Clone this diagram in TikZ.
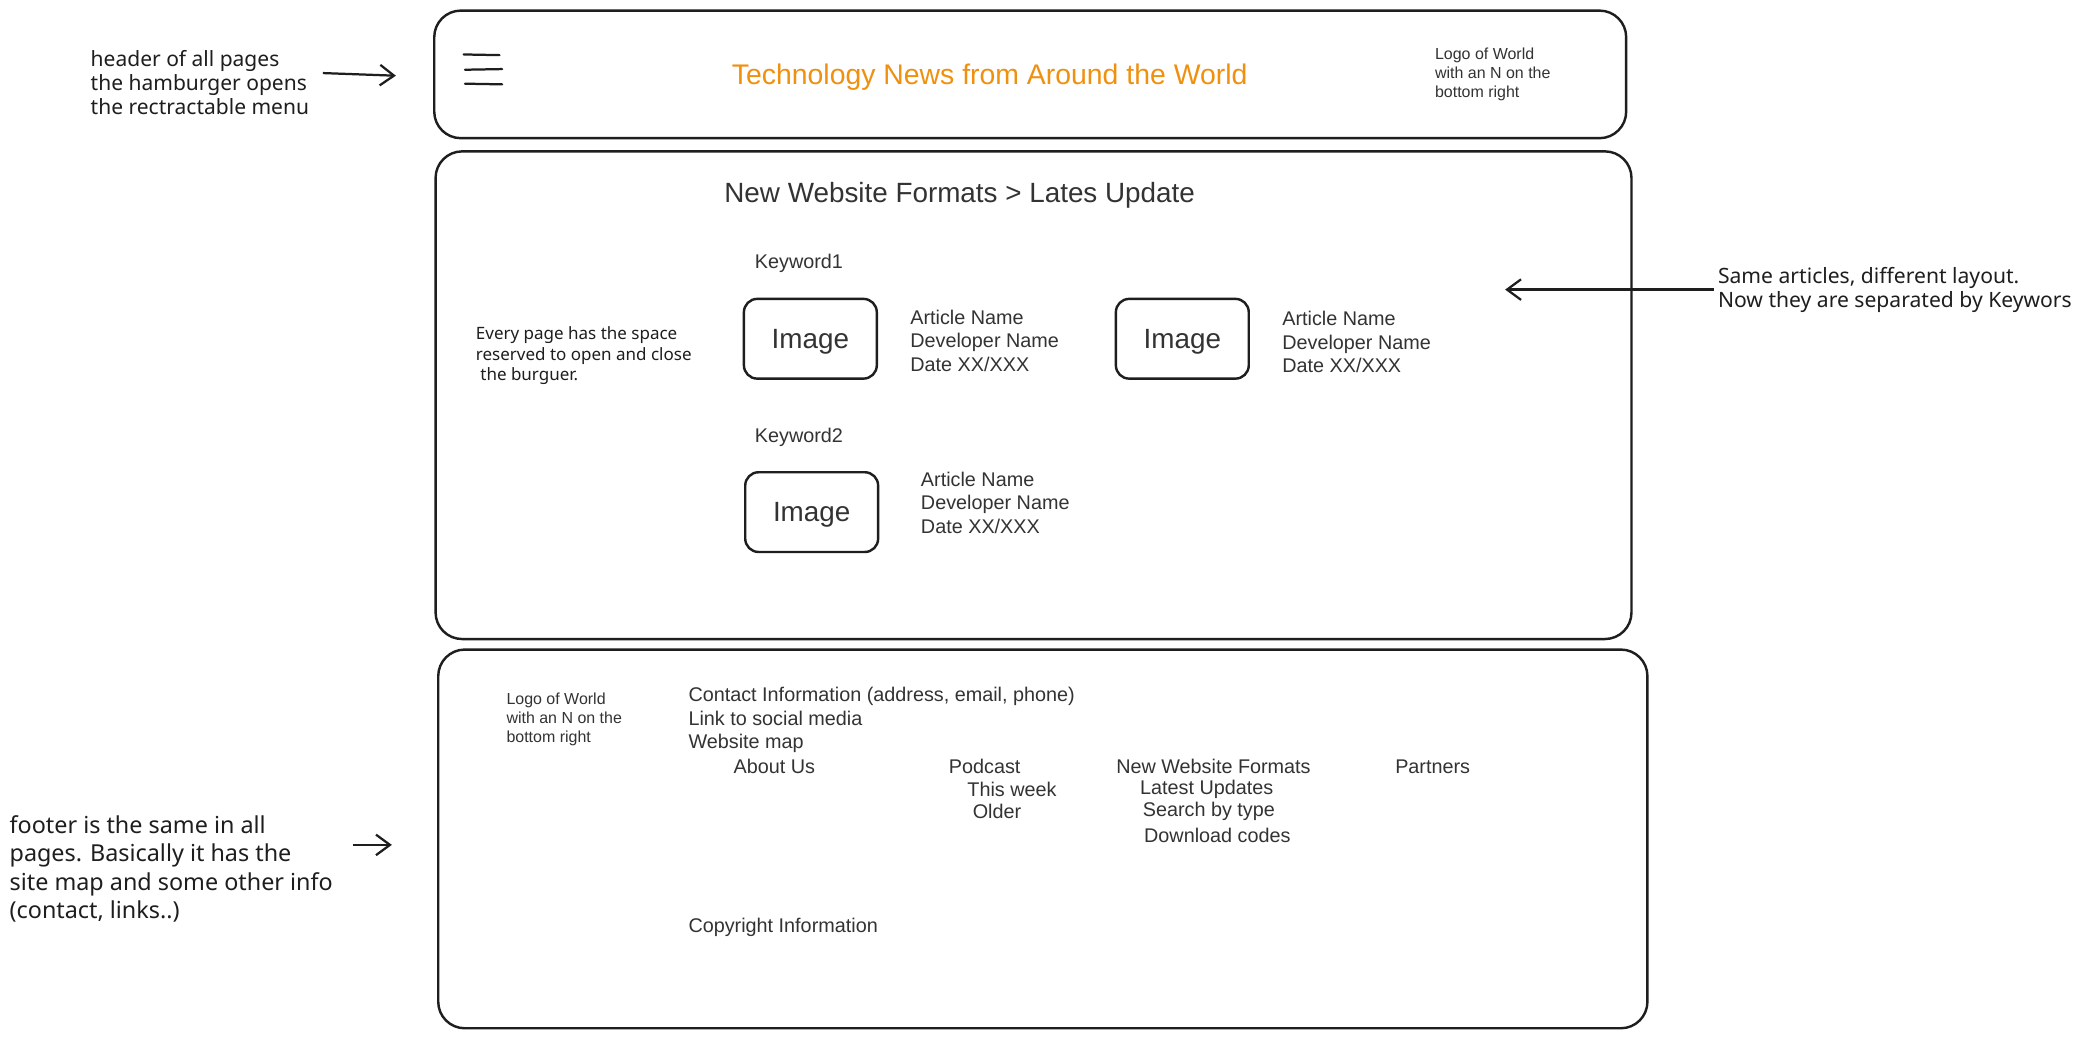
\documentclass[tikz,border=0pt]{standalone}
\usepackage{fontspec}
\setmainfont{Liberation Sans}
\newfontfamily\handfont{Noto Sans}
\usetikzlibrary{arrows.meta}
\definecolor{txt}{HTML}{333333}
\definecolor{ink}{HTML}{1E1E1E}
\definecolor{ttl}{HTML}{F0900F}
\newcommand\wfbody{\fontsize{10.6}{12.45}\selectfont}
\newcommand\wfsmall{\fontsize{8.55}{10.3}\selectfont}
\newcommand\wfimg{\fontsize{14.9}{17}\selectfont}
\begin{document}
\begin{tikzpicture}[x=0.025cm,y=-0.025cm,
  frame/.style={draw=ink, line width=1.3pt, rounded corners=0.5cm, inner sep=0},
  imgbox/.style={draw=ink, line width=1.3pt, rounded corners=0.25cm, minimum width=2.5cm, minimum height=1.5cm, inner sep=0, text=txt, font=\wfimg},
  body/.style={anchor=west, inner sep=0, align=left, text=txt, font=\wfbody, yshift=-0.05cm},
  small/.style={anchor=west, inner sep=0, align=left, text=txt, font=\wfsmall, yshift=-0.025cm},
  note/.style={anchor=west, inner sep=0, align=left, text=ink},
  arr/.style={draw=ink, line width=1.2pt, -{Straight Barb[length=7.5pt,width=11pt]}}
]
\fill[white] (0,0) rectangle (1568,781);
\useasboundingbox (0,0) rectangle (1568,781);

% frames
\node[frame, minimum width=22.425cm, minimum height=2.4cm] (header) at (775.5,56) {};
\node[frame, minimum width=22.5cm, minimum height=9.175cm] (main) at (778,297.5) {};
\node[frame, minimum width=22.75cm, minimum height=7.125cm] (footer) at (785,631.5) {};

% hamburger
\draw[ink, line width=1.2pt, line cap=round] (349,41) -- (376,41.5);
\draw[ink, line width=1.2pt, line cap=round] (350,52.5) -- (378,52);
\draw[ink, line width=1.2pt, line cap=round] (350,63) -- (378,63.5);

% header
\node[anchor=center, inner sep=0, text=ttl, font=\fontsize{15.2}{18}\selectfont, yshift=-0.05cm] (title) at (745,56) {Technology News from Around the World};
\node[small] (hlogo) at (1080,55) {Logo of World\\with an N on the\\bottom right};

% main content
\node[anchor=west, inner sep=0, text=txt, font=\fontsize{14.9}{18}\selectfont, yshift=-0.05cm] (crumb) at (545,145) {New Website Formats > Lates Update};
\node[body] (kw1) at (568,196) {Keyword1};
\node[imgbox] (img1) at (610,255) {};
\node[anchor=center, inner sep=0, text=txt, font=\wfimg, yshift=-0.05cm] at (img1.center) {Image};
\node[body] (art1) at (685,254.5) {Article Name\\Developer Name\\Date XX/XXX};
\node[imgbox] (img2) at (890,255) {};
\node[anchor=center, inner sep=0, text=txt, font=\wfimg, yshift=-0.05cm] at (img2.center) {Image};
\node[body] (art2) at (965,255.5) {Article Name\\Developer Name\\Date XX/XXX};
\node[body] (kw2) at (568,327) {Keyword2};
\node[imgbox] (img3) at (611,385.5) {};
\node[anchor=center, inner sep=0, text=txt, font=\wfimg, yshift=-0.05cm] at (img3.center) {Image};
\node[body] (art3) at (693,376.5) {Article Name\\Developer Name\\Date XX/XXX};

% footer content
\node[small] (flogo) at (381,540.5) {Logo of World\\with an N on the\\bottom right};
\node[body] (contact) at (518,540) {Contact Information (address, email, phone)\\Link to social media\\Website map};
\node[body] (about) at (552,575) {About Us};
\node[body] (podcast) at (714,575) {Podcast};
\node[body] (week) at (728,592) {This week};
\node[body] (older) at (732,609) {Older};
\node[body] (nwf) at (840,575) {New Website Formats};
\node[body] (latest) at (858,592) {Latest Updates};
\node[body] (search) at (860,609) {Search by type};
\node[body] (download) at (861,627) {Download codes};
\node[body] (partners) at (1050,575) {Partners};
\node[body] (copy) at (518,696) {Copyright Information};

% annotations
\node[note, font=\handfont\fontsize{11.25}{12.8}\selectfont] (hnote) at (68,62) {header of all pages\\the hamburger opens\\the rectractable menu};
\node[note, font=\handfont\fontsize{9.1}{11}\selectfont] (pnote) at (358,268) {Every page has the space\\reserved to open and close\\\ the burguer.};
\node[note, font=\handfont\fontsize{11.3}{12.8}\selectfont] (rnote) at (1293,218) {Same articles, different layout.\\Now they are separated by Keywors};
\node[note, font=\handfont\fontsize{12.5}{15.2}\selectfont] (fnote) at (7,654) {footer is the same in all\\pages. Basically it has the\\site map and some other info\\(contact, links..)};

\coordinate (ha0) at (243,55);
\coordinate (ha1) at (298,57);
\coordinate (ra0) at (1290,218);
\coordinate (ra1) at (1133,218);
\coordinate (fa0) at (266,636);
\coordinate (fa1) at (295,636);
\draw[arr] (ha0) -- (ha1);
\draw[arr] (ra0) -- (ra1);
\draw[arr] (fa0) -- (fa1);
\end{tikzpicture}
\end{document}
